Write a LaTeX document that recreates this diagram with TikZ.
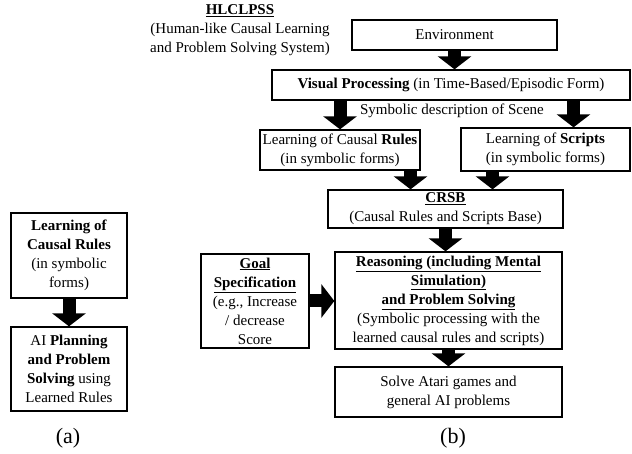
\documentclass[tikz,border=0pt]{standalone}
\usepackage{fontspec}
\setmainfont{Liberation Serif}
\usetikzlibrary{arrows.meta}
\newcommand{\bodyfont}{\fontsize{15}{19}\selectfont}
\newcommand{\ul}[1]{\underline{\textbf{#1}}}

\begin{document}
\begin{tikzpicture}[x=1pt,y=-1pt,
  box/.style={draw,line width=1.3pt,align=center,inner sep=0pt,font=\bodyfont},
  txt/.style={align=center,inner sep=0pt,font=\bodyfont},
  blockarrow/.style={line width=13pt,-{Triangle[width=33pt,length=13pt]}}]
\useasboundingbox (0,0) rectangle (632,454);
\node[txt] (title) at (240,30) {\ul{HLCLPSS}\\(Human-like Causal Learning\\and Problem Solving System)};
\node[box,minimum width=205,minimum height=30] (env) at (454.5,35) {Environment};
\node[box,minimum width=358,minimum height=30] (vp) at (451,85) {\textbf{Visual Processing} (in Time-Based/Episodic Form)};
\node[txt] (scene) at (452,111) {Symbolic description of Scene};
\node[box,minimum width=160,minimum height=40] (lcr) at (340,150) {Learning of Causal \textbf{Rules}\\(in symbolic forms)};
\node[box,minimum width=169,minimum height=43] (ls) at (545.5,149.5) {Learning of \textbf{Scripts}\\(in symbolic forms)};
\node[box,minimum width=235,minimum height=38] (crsb) at (445.5,209) {\ul{CRSB}\\(Causal Rules and Scripts Base)};
\node[box,minimum width=227,minimum height=97] (reason) at (448.5,300.5) {\ul{Reasoning (including Mental}\\\ul{Simulation)}\\\ul{and Problem Solving}\\(Symbolic processing with the\\learned causal rules and scripts)};
\node[box,minimum width=108,minimum height=94] (goal) at (255,301) {\ul{Goal}\\\ul{Specification}\\(e.g., Increase\\/ decrease\\Score};
\node[box,minimum width=227,minimum height=50] (solve) at (448.5,392) {Solve Atari games and\\general AI problems};
\node[box,minimum width=116,minimum height=85] (learn) at (69,255.5) {\textbf{Learning of}\\\textbf{Causal Rules}\\(in symbolic\\forms)};
\node[box,minimum width=116,minimum height=84] (plan) at (69,369) {AI \textbf{Planning}\\\textbf{and Problem}\\\textbf{Solving} using\\Learned Rules};
\node[txt,font=\fontsize{22}{26}\selectfont] (capa) at (68,438) {(a)};
\node[txt,font=\fontsize{22}{26}\selectfont] (capb) at (453,438) {(b)};
\coordinate (lsin) at ([xshift=28]ls.north);
\coordinate (crsbl) at ([xshift=-35]crsb.north);
\coordinate (crsbr) at ([xshift=47]crsb.north);
\draw[blockarrow] (env.south) -- (env.south |- vp.north);
\draw[blockarrow] (vp.south -| lcr.north) -- (lcr.north);
\draw[blockarrow] (vp.south -| lsin) -- (lsin);
\draw[blockarrow] (lcr.south -| crsbl) -- (crsbl);
\draw[blockarrow] (ls.south -| crsbr) -- (crsbr);
\draw[blockarrow] (crsb.south) -- (crsb.south |- reason.north);
\draw[blockarrow] (goal.east) -- (goal.east -| reason.west);
\draw[blockarrow] (reason.south) -- (reason.south |- solve.north);
\draw[blockarrow] (learn.south) -- (plan.north);
\end{tikzpicture}
\end{document}
